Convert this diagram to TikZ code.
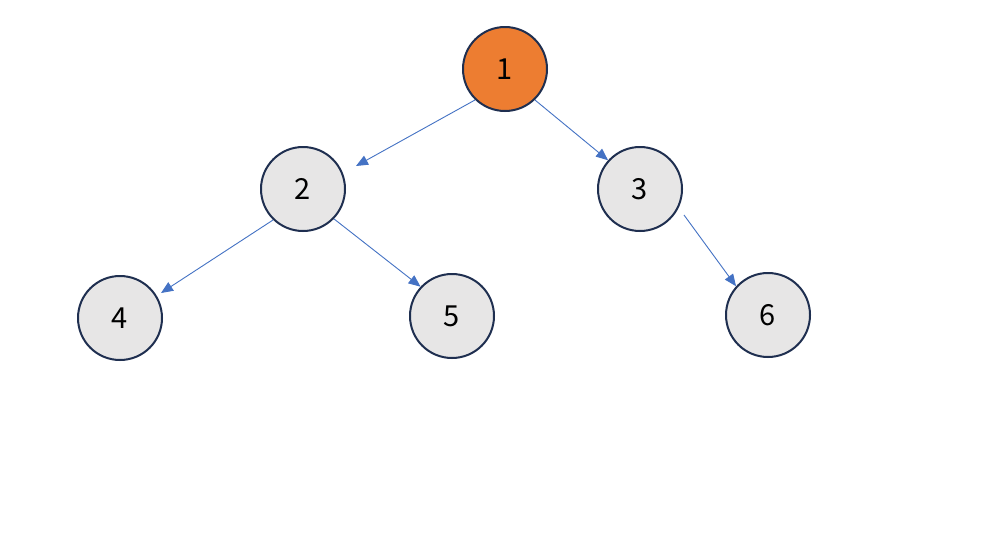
\documentclass[tikz,border=0pt]{standalone}
\usepackage{fontspec}
\setmainfont{Noto Sans CJK SC}
\usetikzlibrary{arrows.meta}
\definecolor{nodeline}{HTML}{1F2F50}
\definecolor{nodefill}{HTML}{E7E6E6}
\definecolor{rootfill}{HTML}{ED7D31}
\definecolor{edgeblue}{HTML}{4472C4}
\begin{document}
\begin{tikzpicture}[x=1pt,y=-1pt,
  treenode/.style={circle, draw=nodeline, line width=2pt, fill=nodefill,
    minimum size=84pt, inner sep=0pt, font=\fontsize{29}{32}\selectfont},
  rootnode/.style={treenode, fill=rootfill},
  edge/.style={draw=edgeblue, line width=0.9pt, -{Triangle[length=12pt,width=10pt]}}]
\useasboundingbox[fill=white] (0,0) rectangle (981,541);
\node[rootnode] (n1) at (505,69) {1};
\node[treenode] (n2) at (303,189) {2};
\node[treenode] (n3) at (640,189) {3};
\node[treenode] (n4) at (120,318) {4};
\node[treenode] (n5) at (452,316) {5};
\node[treenode] (n6) at (768,315) {6};
\coordinate (e12) at (356,166);
\coordinate (e24) at (161,293);
\coordinate (s36) at (684,215);
\draw[edge] (n1.226) -- (e12);
\draw[edge] (n1.314) -- (n3.138);
\draw[edge] (n2.226) -- (e24);
\draw[edge] (n2.316) -- (n5.137);
\draw[edge] (s36) -- (n6.138);
\end{tikzpicture}
\end{document}
